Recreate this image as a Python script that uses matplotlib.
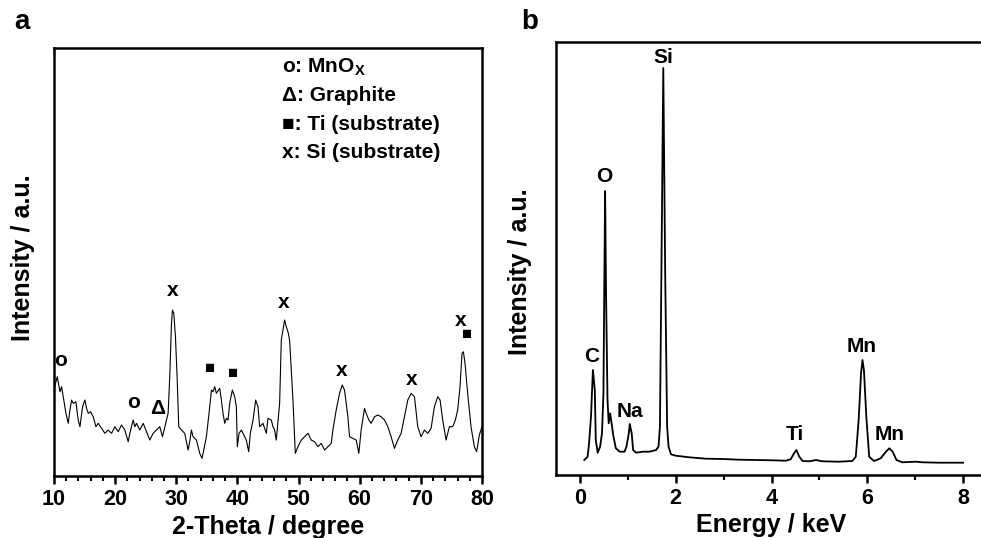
import numpy as np
import matplotlib
matplotlib.use("Agg")
import matplotlib.pyplot as plt
from matplotlib.ticker import MultipleLocator

plt.rcParams['font.family'] = ['Liberation Sans', 'DejaVu Sans']
plt.rcParams['font.weight'] = 'bold'
plt.rcParams['mathtext.fontset'] = 'custom'
plt.rcParams['mathtext.rm'] = 'Liberation Sans:bold'
plt.rcParams['mathtext.default'] = 'rm'

# --- panel a: XRD pattern ---
two_theta = [10.05, 10.54, 10.98, 11.25, 11.52, 11.96, 12.34, 12.61, 12.89, 13.16,
             13.59, 13.97, 14.25, 14.68, 15.06, 15.33, 15.61, 15.99, 16.42, 16.86,
             17.24, 17.78, 18.33, 18.87, 19.42, 19.96, 20.51, 21.05, 21.59, 22.14,
             22.41, 22.96, 23.23, 23.50, 24.04, 24.59, 25.13, 25.68, 26.22, 26.77,
             27.31, 27.75, 28.13, 28.40, 28.67, 28.94, 29.22, 29.38, 29.60, 29.87,
             30.14, 30.41, 30.85, 31.39, 31.94, 32.21, 32.48, 32.75, 33.30, 33.84,
             34.22, 34.50, 34.93, 35.48, 35.75, 36.02, 36.29, 36.56, 37.11, 37.38,
             37.65, 37.93, 38.20, 38.47, 38.74, 39.18, 39.56, 39.83, 39.99, 40.27,
             40.65, 41.19, 41.46, 41.85, 42.12, 42.56, 42.99, 43.37, 43.64, 44.19,
             44.73, 45.00, 45.55, 45.82, 46.09, 46.36, 46.91, 47.18, 47.45, 47.72,
             48.00, 48.27, 48.54, 49.09, 49.47, 49.90, 50.45, 50.99, 51.54, 52.08,
             52.62, 53.17, 53.71, 54.26, 54.80, 55.35, 55.62, 56.16, 56.71, 57.14,
             57.52, 58.07, 58.34, 58.88, 59.43, 59.86, 60.24, 60.79, 61.06, 61.50,
             61.88, 62.42, 62.97, 63.51, 64.06, 64.60, 65.14, 65.69, 66.23, 66.78,
             67.32, 67.87, 68.41, 68.96, 69.50, 70.04, 70.59, 71.13, 71.68, 72.22,
             72.77, 73.15, 73.58, 74.13, 74.67, 75.21, 75.65, 76.03, 76.41, 76.74,
             76.96, 77.23, 77.66, 78.21, 78.75, 79.13, 79.57, 80.00]
xrd_int = [87.7, 99.3, 84.3, 89.3, 79.3, 62.7, 52.7, 66.0, 76.0, 72.7,
           74.3, 56.0, 49.3, 69.3, 76.0, 67.7, 62.7, 64.3, 59.3, 49.3,
           52.7, 47.7, 42.7, 46.0, 42.7, 49.3, 44.3, 51.0, 46.0, 34.3,
           42.7, 56.0, 49.3, 52.7, 46.0, 52.7, 44.3, 36.0, 42.7, 46.0,
           49.3, 39.3, 49.3, 56.0, 62.7, 99.3, 152.7, 166.0, 162.7, 139.3,
           99.3, 49.3, 46.0, 42.7, 26.0, 34.3, 46.0, 39.3, 36.0, 22.7,
           17.7, 26.0, 39.3, 69.3, 86.0, 84.3, 89.3, 82.7, 87.7, 76.0,
           62.7, 52.7, 57.7, 56.0, 72.7, 86.0, 79.3, 69.3, 29.3, 42.7,
           46.0, 39.3, 36.0, 24.3, 42.7, 56.0, 76.0, 69.3, 49.3, 52.7,
           42.7, 57.7, 56.0, 49.3, 46.0, 36.0, 72.7, 136.0, 146.0, 156.0,
           149.3, 144.3, 136.0, 76.0, 22.7, 29.3, 36.0, 39.3, 42.7, 36.0,
           34.3, 29.3, 32.7, 26.0, 29.3, 32.7, 46.0, 66.0, 82.7, 91.0,
           86.0, 59.3, 39.3, 37.7, 36.0, 22.7, 46.0, 67.7, 62.7, 56.0,
           52.7, 59.3, 61.0, 59.3, 56.0, 49.3, 39.3, 27.7, 36.0, 42.7,
           59.3, 76.0, 82.7, 79.3, 49.3, 39.3, 46.0, 42.7, 47.7, 69.3,
           79.3, 76.0, 56.0, 36.0, 49.3, 49.3, 56.0, 66.0, 89.3, 122.7,
           124.3, 112.7, 82.7, 49.3, 29.3, 24.3, 41.0, 49.3]

xrd_marks = ['o', 'o', 'Δ', 'x', '■', '■', 'x', 'x', 'x', 'x', '■']
xrd_mark_x = [11.1, 23.1, 26.9, 29.4, 35.6, 39.3, 47.6, 57.1, 68.5, 76.5, 77.5]
xrd_mark_y = [116, 74, 68, 186, 108, 103, 174, 106, 97, 156, 142]

legend_lines = ['o: MnO$_\\mathrm{X}$', 'Δ: Graphite', '■: Ti (substrate)', 'x: Si (substrate)']

# --- panel b: EDS spectrum ---
energy = [0.09, 0.16, 0.19, 0.23, 0.27, 0.31, 0.33, 0.37, 0.42, 0.46,
          0.49, 0.51, 0.525, 0.545, 0.575, 0.60, 0.63, 0.65, 0.70, 0.75,
          0.83, 0.93, 0.97, 1.02, 1.04, 1.08, 1.11, 1.17, 1.31, 1.45,
          1.59, 1.64, 1.67, 1.70, 1.74, 1.78, 1.82, 1.85, 1.90, 2.00,
          2.28, 2.63, 2.98, 3.33, 3.67, 4.02, 4.30, 4.40, 4.47, 4.52,
          4.58, 4.65, 4.79, 4.93, 5.06, 5.41, 5.69, 5.76, 5.82, 5.87,
          5.90, 5.93, 5.98, 6.04, 6.14, 6.28, 6.39, 6.46, 6.53, 6.61,
          6.73, 7.01, 7.15, 7.50, 8.00]
eds_int = [15.0, 18.3, 31.7, 58.3, 105.0, 85.0, 35.0, 22.3, 28.3, 41.7,
           81.7, 200.0, 284.0, 180.0, 75.0, 51.7, 61.7, 55.0, 38.3, 26.7,
           23.3, 23.3, 28.3, 41.7, 51.0, 41.7, 25.0, 22.3, 23.3, 23.3,
           25.0, 28.3, 48.3, 200.0, 407.0, 200.0, 48.3, 28.3, 20.7, 19.3,
           17.7, 16.3, 16.0, 15.3, 15.0, 14.7, 14.3, 15.7, 21.7, 25.0,
           18.3, 14.0, 13.7, 15.0, 13.7, 13.3, 14.0, 18.3, 55.0, 101.7,
           115.0, 105.0, 58.3, 18.3, 14.0, 16.7, 23.3, 26.7, 23.3, 15.0,
           12.7, 13.3, 12.7, 12.3, 12.3]

eds_labels = ['Si', 'O', 'C', 'Na', 'Ti', 'Mn', 'Mn']
eds_label_x = [1.74, 0.51, 0.24, 1.05, 4.49, 5.88, 6.46]
eds_label_y = [418, 299, 119, 64, 41, 129, 41]

fig = plt.figure(figsize=(9.81, 5.38), dpi=100)
ax1 = fig.add_axes([0.0550, 0.1152, 0.4363, 0.7955])
ax2 = fig.add_axes([0.5668, 0.1171, 0.4393, 0.8048])

for ax in (ax1, ax2):
    for sp in ax.spines.values():
        sp.set_linewidth(1.8)
    ax.set_yticks([])
    ax.tick_params(axis='x', which='major', direction='out', length=6, width=1.8,
                   labelsize=15.5, pad=3, top=False)
    ax.tick_params(axis='x', which='minor', direction='out', length=3.5, width=1.5, top=False)
    ax.set_ylabel('Intensity / a.u.', fontsize=18, fontweight='bold')

# panel a
ax1.plot(two_theta, xrd_int, color='black', lw=0.8)
ax1.set_xlim(10, 80)
ax1.set_ylim(0, 428)
ax1.xaxis.set_major_locator(MultipleLocator(10))
ax1.xaxis.set_minor_locator(MultipleLocator(2))
ax1.set_xlabel('2-Theta / degree', fontsize=18, fontweight='bold', labelpad=4)
ax1.yaxis.set_label_coords(-0.044, 0.51)
for m, x, y in zip(xrd_marks, xrd_mark_x, xrd_mark_y):
    fs = 12 if m == '■' else 15
    ax1.text(x, y, m, ha='center', va='center', fontsize=fs, fontweight='bold')
for i, line in enumerate(legend_lines):
    ax1.text(0.533, 0.956 - i * 0.067, line, transform=ax1.transAxes,
             ha='left', va='center', fontsize=15, fontweight='bold')

# panel b
ax2.plot(energy, eds_int, color='black', lw=1.3)
ax2.set_xlim(-0.5, 8.5)
ax2.set_ylim(0, 433)
ax2.xaxis.set_major_locator(MultipleLocator(2))
ax2.xaxis.set_minor_locator(MultipleLocator(1))
ax2.set_xlabel('Energy / keV', fontsize=18, fontweight='bold', labelpad=3)
ax2.yaxis.set_label_coords(-0.056, 0.47)
for lab, x, y in zip(eds_labels, eds_label_x, eds_label_y):
    ax2.text(x, y, lab, ha='center', va='center', fontsize=15, fontweight='bold')

fig.text(22 / 981, 1 - 22 / 538, 'a', fontsize=20, fontweight='bold', ha='center', va='center')
fig.text(530 / 981, 1 - 22 / 538, 'b', fontsize=20, fontweight='bold', ha='center', va='center')

fig.savefig('out.png', dpi=100)
